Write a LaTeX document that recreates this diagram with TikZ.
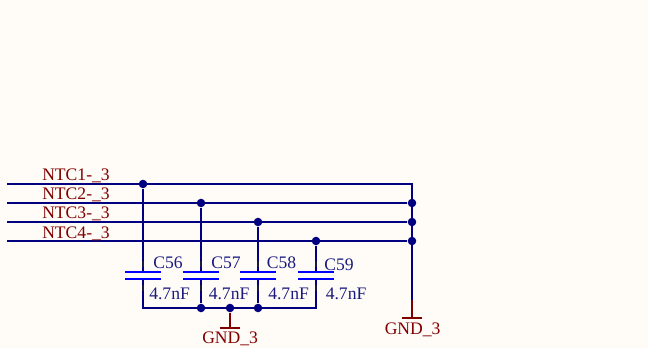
\documentclass[tikz,border=0pt]{standalone}
\usepackage{fontspec}
\setmainfont{Liberation Serif}
\definecolor{bgc}{HTML}{FFFCF8}
\definecolor{wirec}{HTML}{000080}
\definecolor{platec}{HTML}{0000FF}
\definecolor{redc}{HTML}{800000}
\definecolor{txtb}{HTML}{1A1A80}
\definecolor{pinc}{HTML}{1A1A40}
\tikzset{
  x=0.75pt,y=-0.75pt,
  wire/.style={draw=wirec,line width=1.5pt,line cap=butt},
  gndwire/.style={draw=redc,line width=1.5pt},
  plate/.style={draw=platec,line width=1.5pt},
  pin/.style={draw=pinc,line width=1.5pt},
  junction/.style={circle,fill=wirec,inner sep=0pt,minimum size=6.4pt},
  netlabel/.style={text=redc,font=\fontsize{13.2}{15}\selectfont,inner sep=0pt,anchor=base west},
  partlabel/.style={text=txtb,font=\fontsize{13.2}{15}\selectfont,inner sep=0pt,anchor=base west},
}
\begin{document}
\begin{tikzpicture}
\useasboundingbox[fill=bgc] (0,0) rectangle (648,348);
% free ends and corners
\coordinate (s1) at (7,184);
\coordinate (s2) at (7,203);
\coordinate (s3) at (7,222);
\coordinate (s4) at (7,241);
\coordinate (tr) at (412,184);
\coordinate (bl) at (143,308);
\coordinate (br) at (316,308);
% junctions
\node[junction] (j1) at (143,184) {};
\node[junction] (j2) at (201,203) {};
\node[junction] (j3) at (258,222) {};
\node[junction] (j4) at (316,241) {};
\node[junction] (r2) at (412,203) {};
\node[junction] (r3) at (412,222) {};
\node[junction] (r4) at (412,241) {};
\node[junction] (b2) at (201,308) {};
\node[junction] (b3) at (230,308) {};
\node[junction] (b4) at (258,308) {};
% capacitor plates
\foreach \n/\x in {1/143,2/201,3/258,4/316}{
  \coordinate (pa\n) at (\x,272);
  \coordinate (pb\n) at (\x,279);
  \coordinate (ua\n) at (\x,261);
  \coordinate (ub\n) at (\x,267);
  \coordinate (la\n) at (\x,285);
  \coordinate (lb\n) at (\x,291);
}
% wires
\coordinate (rb) at (412,300);
\draw[wire] (s1) -- (tr) -- (rb);
\draw[wire] (s2) -- (r2);
\draw[wire] (s3) -- (r3);
\draw[wire] (s4) -- (r4);
\draw[wire] (j1) -- (pa1);
\draw[wire] (j2) -- (pa2);
\draw[wire] (j3) -- (pa3);
\draw[wire] (j4) -- (pa4);
\draw[wire] (pb1) -- (bl) -- (br) -- (pb4);
\draw[wire] (pb2) -- (b2);
\draw[wire] (pb3) -- (b4);
\foreach \n in {1,2,3,4}{
  \draw[pin] (ua\n) -- (ub\n);
  \draw[pin] (la\n) -- (lb\n);
  \draw[plate] ([xshift=-13.4pt]pa\n) -- ([xshift=13.4pt]pa\n);
  \draw[plate] ([xshift=-13.4pt]pb\n) -- ([xshift=13.4pt]pb\n);
}
% ground symbols
\coordinate (g1) at (230,327.5);
\coordinate (g2) at (412,318);
\draw[gndwire] (b3) -- (g1);
\draw[gndwire] ([xshift=-7.7pt]g1) -- ([xshift=7.7pt]g1);
\draw[gndwire] (rb) -- (g2);
\draw[gndwire] ([xshift=-7.7pt]g2) -- ([xshift=7.7pt]g2);
% labels
\node[netlabel] (n1) at (42,181) {NTC1-\_3};
\node[netlabel] (n2) at (42,200) {NTC2-\_3};
\node[netlabel] (n3) at (42,219) {NTC3-\_3};
\node[netlabel] (n4) at (42,238.5) {NTC4-\_3};
\node[partlabel] (c1) at (153,269) {C56};
\node[partlabel] (c2) at (211,269) {C57};
\node[partlabel] (c3) at (266.5,269) {C58};
\node[partlabel] (c4) at (324,271) {C59};
\node[partlabel] (v1) at (149,300) {4.7nF};
\node[partlabel] (v2) at (208.5,300) {4.7nF};
\node[partlabel] (v3) at (268,300) {4.7nF};
\node[partlabel] (v4) at (325.5,300) {4.7nF};
\node[netlabel] (g1t) at (202,343) {GND\_3};
\node[netlabel] (g2t) at (384.5,334) {GND\_3};
\end{tikzpicture}
\end{document}
